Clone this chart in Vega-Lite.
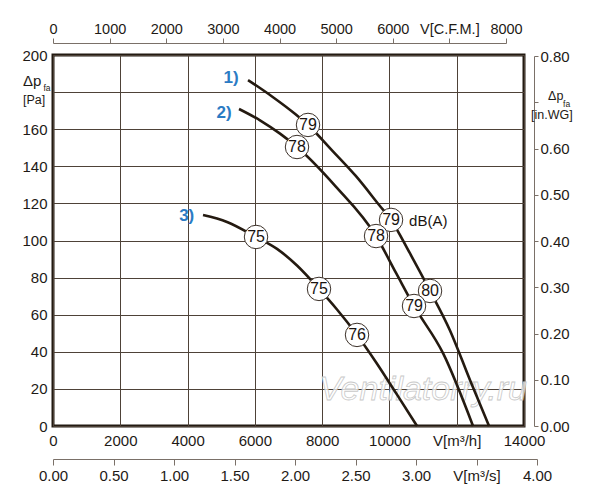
{
  "$schema": "https://vega.github.io/schema/vega-lite/v6.json",
  "width": 471,
  "height": 371,
  "autosize": "none",
  "padding": {"left": 53, "top": 55, "right": 76, "bottom": 74},
  "background": "white",
  "config": {
    "view": {"stroke": "#231a12", "strokeWidth": 3},
    "font": "Liberation Sans",
    "axis": {
      "labelFont": "Liberation Sans",
      "labelFontSize": 15,
      "labelColor": "#1e1a16",
      "labelOverlap": false,
      "labelFlush": false,
      "labelBound": false,
      "domainColor": "#7a7068",
      "tickColor": "#7a7068",
      "gridColor": "#4e4238",
      "gridOpacity": 1,
      "title": null
    },
    "text": {"font": "Liberation Sans"}
  },
  "datasets": {
    "curves": [
      {"curve": "1", "q": 5797, "p": 186.5},
      {"curve": "1", "q": 6500, "p": 177.8},
      {"curve": "1", "q": 7200, "p": 168.2},
      {"curve": "1", "q": 7580, "p": 162.3},
      {"curve": "1", "q": 8300, "p": 148.5},
      {"curve": "1", "q": 9000, "p": 134.8},
      {"curve": "1", "q": 9700, "p": 119.0},
      {"curve": "1", "q": 10048, "p": 111.1},
      {"curve": "1", "q": 10600, "p": 93.4},
      {"curve": "1", "q": 11207, "p": 72.8},
      {"curve": "1", "q": 11800, "p": 51.5},
      {"curve": "1", "q": 12400, "p": 24.5},
      {"curve": "1", "q": 12961, "p": 0},
      {"curve": "2", "q": 5529, "p": 170.9},
      {"curve": "2", "q": 6153, "p": 164.8},
      {"curve": "2", "q": 6748, "p": 157.6},
      {"curve": "2", "q": 7253, "p": 150.4},
      {"curve": "2", "q": 8400, "p": 129.2},
      {"curve": "2", "q": 9602, "p": 102.4},
      {"curve": "2", "q": 10200, "p": 82.4},
      {"curve": "2", "q": 10731, "p": 64.7},
      {"curve": "2", "q": 11600, "p": 39.0},
      {"curve": "2", "q": 12485, "p": 0},
      {"curve": "3", "q": 4459, "p": 113.7},
      {"curve": "3", "q": 5172, "p": 110.0},
      {"curve": "3", "q": 6035, "p": 101.9},
      {"curve": "3", "q": 6659, "p": 95.5},
      {"curve": "3", "q": 7253, "p": 86.5},
      {"curve": "3", "q": 7907, "p": 73.9},
      {"curve": "3", "q": 8442, "p": 62.8},
      {"curve": "3", "q": 9037, "p": 49.1},
      {"curve": "3", "q": 9631, "p": 33.6},
      {"curve": "3", "q": 10226, "p": 16.9},
      {"curve": "3", "q": 10820, "p": 0}
    ],
    "noise": [
      {"curve": "1", "q": 7580, "p": 162.3, "db": "79"},
      {"curve": "1", "q": 10048, "p": 111.1, "db": "79"},
      {"curve": "1", "q": 11207, "p": 72.8, "db": "80"},
      {"curve": "2", "q": 7253, "p": 150.4, "db": "78"},
      {"curve": "2", "q": 9602, "p": 102.4, "db": "78"},
      {"curve": "2", "q": 10731, "p": 64.7, "db": "79"},
      {"curve": "3", "q": 6035, "p": 101.9, "db": "75"},
      {"curve": "3", "q": 7907, "p": 73.9, "db": "75"},
      {"curve": "3", "q": 9037, "p": 49.1, "db": "76"}
    ],
    "curveLabels": [
      {"label": "1)", "q": 5291, "p": 187.6},
      {"label": "2)", "q": 5083, "p": 168.9},
      {"label": "3)", "q": 3974, "p": 113.2}
    ]
  },
  "layer": [
    {
      "encoding": {
        "x": {
          "field": "q",
          "type": "quantitative",
          "scale": {"domain": [0, 14000], "nice": false, "zero": false},
          "axis": {
            "orient": "bottom",
            "values": [0, 2000, 4000, 6000, 8000, 10000, 12000, 14000],
            "domain": false,
            "ticks": false,
            "tickSize": 0,
            "grid": true,
            "labelPadding": 7,
            "labelExpr": "datum.value == 12000 ? 'V[m³/h]' : datum.value"
          }
        },
        "y": {
          "field": "p",
          "type": "quantitative",
          "scale": {"domain": [0, 200], "nice": false, "zero": false},
          "axis": {
            "orient": "left",
            "values": [0, 20, 40, 60, 80, 100, 120, 140, 160, 180, 200],
            "domain": false,
            "ticks": false,
            "tickSize": 0,
            "grid": true,
            "labelPadding": 6,
            "labelExpr": "datum.value == 180 ? '' : datum.value"
          }
        }
      },
      "layer": [
        {
          "data": {"values": [{"text": "Ventilatorry.ru", "q": 11000, "p": 19.4}]},
          "mark": {
            "type": "text",
            "fontSize": 34,
            "fontStyle": "italic",
            "fill": "white",
            "fillOpacity": 0.75,
            "stroke": "#c9c9c9",
            "strokeWidth": 0.8,
            "align": "center",
            "baseline": "middle"
          },
          "encoding": {"text": {"field": "text"}}
        },
        {
          "data": {"name": "curves"},
          "mark": {"type": "line", "color": "#241a10", "strokeWidth": 2.6, "interpolate": "monotone"},
          "encoding": {"detail": {"field": "curve"}}
        },
        {
          "data": {"name": "noise"},
          "mark": {"type": "point", "shape": "circle", "filled": true, "fill": "white", "stroke": "#3b3028", "strokeWidth": 1, "size": 550, "opacity": 1}
        },
        {
          "data": {"name": "noise"},
          "mark": {"type": "text", "fontSize": 16, "color": "#1a1410", "align": "center", "baseline": "middle"},
          "encoding": {"text": {"field": "db"}}
        },
        {
          "data": {"values": [{"text": "dB(A)", "q": 10583, "p": 110.7}]},
          "mark": {"type": "text", "fontSize": 15, "color": "#1a1410", "align": "left", "baseline": "middle"},
          "encoding": {"text": {"field": "text"}}
        },
        {
          "data": {"name": "curveLabels"},
          "mark": {"type": "text", "fontSize": 17, "fontWeight": "bold", "color": "#2b7bc4", "align": "center", "baseline": "middle"},
          "encoding": {"text": {"field": "label"}}
        },
        {
          "data": {"values": [{"text": "Δp", "q": -892, "p": 186.0}]},
          "mark": {"type": "text", "fontSize": 15, "color": "#1e1a16", "align": "left", "baseline": "middle"},
          "encoding": {"text": {"field": "text"}}
        },
        {
          "data": {"values": [{"text": "[Pa]", "q": -892, "p": 176.0}, {"text": "[in.WG]", "q": 14209, "p": 167.8}]},
          "mark": {"type": "text", "fontSize": 12.5, "color": "#1e1a16", "align": "left", "baseline": "middle"},
          "encoding": {"text": {"field": "text"}}
        },
        {
          "data": {"values": [{"text": "Δp", "q": 14715, "p": 177.9}]},
          "mark": {"type": "text", "fontSize": 12.5, "color": "#1e1a16", "align": "left", "baseline": "middle"},
          "encoding": {"text": {"field": "text"}}
        },
        {
          "data": {"values": [{"text": "fa", "q": -282, "p": 182.2}, {"text": "fa", "q": 15161, "p": 173.6}]},
          "mark": {"type": "text", "fontSize": 8.5, "color": "#1e1a16", "align": "left", "baseline": "middle"},
          "encoding": {"text": {"field": "text"}}
        }
      ]
    },
    {
      "data": {"values": [{"cfm": 0, "inwg": 0}]},
      "mark": {"type": "point", "opacity": 0},
      "encoding": {
        "x": {
          "field": "cfm",
          "type": "quantitative",
          "scale": {"domain": [0, 8000], "range": [0, 453], "nice": false, "zero": false},
          "axis": {
            "orient": "top",
            "offset": 12,
            "values": [0, 1000, 2000, 3000, 4000, 5000, 6000, 7000, 8000],
            "grid": false,
            "tickSize": 5,
            "labelPadding": 2,
            "labelFontSize": 14.5,
            "labelExpr": "datum.value == 7000 ? 'V[C.F.M.]' : datum.value"
          }
        },
        "y": {
          "field": "inwg",
          "type": "quantitative",
          "scale": {"domain": [0, 0.8], "range": [371, 1], "nice": false, "zero": false},
          "axis": {
            "orient": "right",
            "offset": 10,
            "values": [0, 0.1, 0.2, 0.3, 0.4, 0.5, 0.6, 0.7, 0.8],
            "grid": false,
            "tickSize": 4,
            "labelPadding": 2,
            "labelExpr": "abs(datum.value - 0.7) < 0.001 ? '' : format(datum.value, '.2f')"
          }
        }
      }
    },
    {
      "data": {"values": [{"m3s": 0}]},
      "mark": {"type": "point", "opacity": 0},
      "encoding": {
        "x": {
          "field": "m3s",
          "type": "quantitative",
          "scale": {"domain": [0, 4], "range": [0, 484], "nice": false, "zero": false},
          "axis": {
            "orient": "bottom",
            "offset": 33,
            "values": [0, 0.5, 1, 1.5, 2, 2.5, 3, 3.5, 4],
            "grid": false,
            "tickSize": 6,
            "labelPadding": 3,
            "labelExpr": "abs(datum.value - 3.5) < 0.001 ? 'V[m³/s]' : format(datum.value, '.2f')"
          }
        }
      }
    }
  ],
  "resolve": {
    "scale": {"x": "independent", "y": "independent"},
    "axis": {"x": "independent", "y": "independent"}
  }
}
